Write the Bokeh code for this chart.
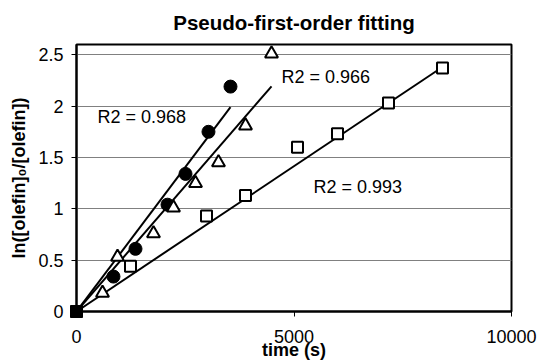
import numpy as np
from bokeh.plotting import figure
from bokeh.models import Range1d, FixedTicker, Label
from bokeh.embed import file_html
from bokeh.resources import INLINE

title = "Pseudo-first-order fitting"
x_label = "time (s)"
y_label = "ln([olefin]\u2080/[olefin])"

origin_t = [0]
origin_y = [0]

circ_t = [850, 1356, 2092, 2506, 3034, 3540]
circ_y = [0.34, 0.61, 1.04, 1.34, 1.75, 2.19]
tri_t = [598, 943, 1770, 2230, 2736, 3264, 3885, 4483]
tri_y = [0.18, 0.53, 0.76, 1.01, 1.25, 1.45, 1.81, 2.51]
sq_t = [1241, 2989, 3885, 5080, 6000, 7172, 8414]
sq_y = [0.44, 0.93, 1.13, 1.60, 1.73, 2.03, 2.37]

r2_labels = ["R2 = 0.968", "R2 = 0.966", "R2 = 0.993"]
r2_t = [483, 4713, 5448]
r2_y = [1.89, 2.28, 1.21]
slopes = [5.62e-4, 4.89e-4, 2.83e-4]   # trendlines through origin
fit_end = [3540, 4483, 8414]

x_ticks = [0, 5000, 10000]
y_ticks = [0, 0.5, 1, 1.5, 2, 2.5]
y_tick_labels = ["0", "0.5", "1", "1.5", "2", "2.5"]

FONT = "Liberation Sans"

p = figure(width=538, height=362, output_backend="svg", toolbar_location=None,
           x_range=Range1d(0, 10000), y_range=Range1d(0, 2.6),
           min_border_left=76, min_border_right=27, min_border_top=44,
           min_border_bottom=51, background_fill_color="white",
           border_fill_color="white")

p.title.text = title
p.title.align = "center"
p.title.vertical_align = "top"
p.title.text_font = FONT
p.title.text_font_size = "20.5px"
p.title.text_font_style = "bold"
p.title.text_color = "black"
p.title.standoff = 18

p.outline_line_color = "black"
p.outline_line_width = 2
p.xgrid.visible = False
p.ygrid.grid_line_color = "#808080"
p.ygrid.grid_line_width = 1
p.ygrid.ticker = FixedTicker(ticks=y_ticks)

p.xaxis.ticker = FixedTicker(ticks=x_ticks)
p.yaxis.ticker = FixedTicker(ticks=y_ticks)
p.yaxis.major_label_overrides = {t: l for t, l in zip(y_ticks, y_tick_labels)}
p.xaxis.major_label_overrides = {t: str(t) for t in x_ticks}

for ax in (p.xaxis, p.yaxis):
    ax.axis_line_color = "black"
    ax.axis_line_width = 2
    ax.major_tick_in = 0
    ax.major_tick_out = 5
    ax.major_tick_line_color = "black"
    ax.major_tick_line_width = 1
    ax.minor_tick_line_color = None
    ax.major_label_text_font = FONT
    ax.major_label_text_font_size = "18px"
    ax.major_label_text_color = "black"
    ax.axis_label_text_font = FONT
    ax.axis_label_text_font_size = "18px"
    ax.axis_label_text_font_style = "bold"
    ax.axis_label_text_color = "black"

p.xaxis.axis_label = x_label
p.yaxis.axis_label = y_label
p.xaxis.major_label_standoff = 13
p.xaxis.axis_label_standoff = -6
p.yaxis.major_label_standoff = 8
p.yaxis.axis_label_standoff = 6

# trendlines
for s, e in zip(slopes, fit_end):
    xs = np.array([0, e])
    p.line(xs, s * xs, line_color="black", line_width=2)

p.scatter(circ_t, circ_y, marker="circle", size=13, fill_color="black",
          line_color="black")
p.scatter(tri_t, tri_y, marker="triangle", size=13, fill_color="white",
          line_color="black", line_width=2)
p.scatter(sq_t, sq_y, marker="square", size=11, fill_color="white",
          line_color="black", line_width=2)
p.scatter(origin_t, origin_y, marker="square", size=12, fill_color="black",
          line_color="black", level="overlay")

for txt, tx, ty in zip(r2_labels, r2_t, r2_y):
    p.add_layout(Label(x=tx, y=ty, text=txt, text_font=FONT,
                       text_font_size="18px", text_baseline="middle",
                       text_align="left", text_color="black"))

open("out.html", "w").write(file_html(p, INLINE))
